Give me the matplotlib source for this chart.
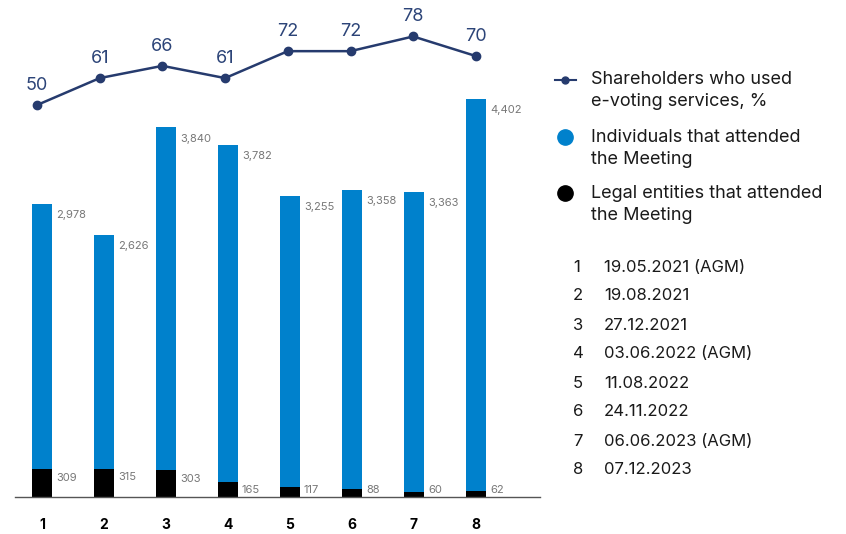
import matplotlib.pyplot as plt
from matplotlib.lines import Line2D

meetings = [1, 2, 3, 4, 5, 6, 7, 8]
individuals = [2978, 2626, 3840, 3782, 3255, 3358, 3363, 4402]
legal = [309, 315, 303, 165, 117, 88, 60, 62]
evoting = [50, 61, 66, 61, 72, 72, 78, 70]
dates = ["19.05.2021 (AGM)", "19.08.2021", "27.12.2021", "03.06.2022 (AGM)",
         "11.08.2022", "24.11.2022", "06.06.2023 (AGM)", "07.12.2023"]

BLUE = "#0081cc"
NAVY = "#263b6e"
GREY = "#777777"
TXT = "#1a1a1a"

plt.rcParams["font.family"] = ["Inter", "DejaVu Sans"]

W, H = 846, 534
fig = plt.figure(figsize=(W / 100, H / 100), dpi=100)

def px(x0, y0, x1, y1):
    # pixel box (top-left origin) -> figure fraction rect
    return [x0 / W, 1 - y1 / H, (x1 - x0) / W, (y1 - y0) / H]

ax = fig.add_axes(px(15, 10, 540, 497))
ax.set_xlim(1 - 27 / 62, 1 + (540 - 42) / 62)
ax.set_ylim(0, 487 / 0.0892)

bw = 0.31
ax.bar(meetings, legal, width=bw, color="black")
ax.bar(meetings, individuals, width=bw, bottom=legal, color=BLUE)

for m, ind, leg in zip(meetings, individuals, legal):
    tot = ind + leg
    ax.text(m + bw / 2 + 0.07, tot - 125, f"{ind:,}", color=GREY,
            fontsize=8, va="center", ha="left")
    ax.text(m + bw / 2 + 0.07, max(leg - 96, 75), f"{leg}", color=GREY,
            fontsize=8, va="center", ha="left")

for s in ["top", "right", "left"]:
    ax.spines[s].set_visible(False)
ax.spines["bottom"].set_color("#555555")
ax.spines["bottom"].set_linewidth(1)
ax.set_yticks([])
ax.set_xticks(meetings)
ax.set_xticklabels([str(m) for m in meetings], fontweight="bold", fontsize=10)
ax.tick_params(axis="x", length=0, pad=15)

# line sits on its own axes, slightly wider spacing than the bars
ax2 = fig.add_axes(px(15, 10, 540, 497))
ax2.set_xlim(1 - 22 / 62.7, 1 + (540 - 37) / 62.7)
ax2.set_ylim(-110, 88.8)
ax2.plot(meetings, evoting, color=NAVY, lw=1.8, marker="o", markersize=6)
for m, v in zip(meetings, evoting):
    ax2.annotate(f"{v}", (m, v), xytext=(0, 8), textcoords="offset points",
                 ha="center", va="bottom", color="#2c4478", fontsize=13)
ax2.axis("off")

# legend
def fy(y):
    return 1 - y / H

fig.add_artist(Line2D([555 / W, 576 / W], [fy(80), fy(80)], color=NAVY, lw=1.5,
                      transform=fig.transFigure))
fig.add_artist(Line2D([565 / W], [fy(80)], color=NAVY, marker="o", markersize=5,
                      transform=fig.transFigure))
fig.add_artist(Line2D([565 / W], [fy(137)], color=BLUE, marker="o", markersize=11,
                      lw=0, transform=fig.transFigure))
fig.add_artist(Line2D([565 / W], [fy(193)], color="black", marker="o", markersize=11,
                      lw=0, transform=fig.transFigure))

legend_rows = [("Shareholders who used", 80), ("e-voting services, %", 102),
               ("Individuals that attended", 137), ("the Meeting", 159),
               ("Legal entities that attended", 193), ("the Meeting", 215)]
for t, y in legend_rows:
    fig.text(591 / W, fy(y), t, fontsize=13, va="center", ha="left", color=TXT)

for i, (m, d) in enumerate(zip(meetings, dates)):
    y = 267 + i * 29
    fig.text(573 / W, fy(y), str(m), fontsize=12, va="center", ha="left", color=TXT)
    fig.text(604 / W, fy(y), d, fontsize=12, va="center", ha="left", color=TXT)

fig.savefig("out.png", dpi=100)
